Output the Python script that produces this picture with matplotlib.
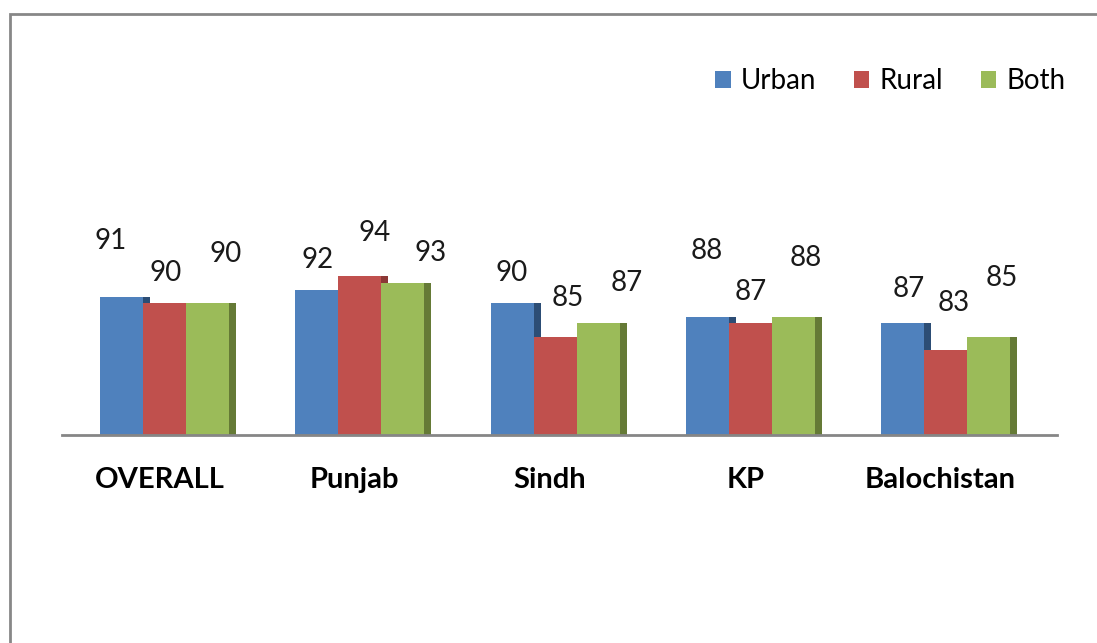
import matplotlib.pyplot as plt
from matplotlib.patches import Rectangle, Patch
import matplotlib.transforms as mtransforms
import numpy as np

plt.rcParams['font.family'] = ['Lato', 'DejaVu Sans']

regions = ['OVERALL', 'Punjab', 'Sindh', 'KP', 'Balochistan']
urban = [91, 92, 90, 88, 87]
rural = [90, 94, 85, 87, 83]
both = [90, 93, 87, 88, 85]
series_names = ['Urban', 'Rural', 'Both']

colors = ['#4F81BD', '#C0504D', '#9BBB59']
side_colors = ['#2C4D75', '#8C3836', '#657A36']

# Excel put the value labels unevenly, nudges in pixels (dx, dy above bar top)
label_nudge = [
    [(-11, 56), (1, 30), (18, 49)],
    [(1, 30), (15, 43), (28, 30)],
    [(0, 30), (13, 39), (29, 40)],
    [(-1, 66), (0, 31), (12, 59)],
    [(6, 34), (8, 47), (13, 59)],
]

W, H = 1097, 643
fig = plt.figure(figsize=(W / 100, H / 100), dpi=100)

# grey chart border, only left and top edges visible
fig.patches.append(Rectangle((10 / W, -0.1), 1.2, 1.1 - 14 / H, transform=fig.transFigure,
                             fill=False, edgecolor='#878787', linewidth=2))

ax = fig.add_axes([62 / W, 1 - 435 / H, 995 / W, 199 / H])
ax.set_xlim(-0.525, 4.571)
ax.set_ylim(70.4, 100)

x = np.arange(len(regions))
bw = 0.2202
side = 0.036
all_series = [urban, rural, both]

# dark side strips first, so the next bar hides them
for k, vals in enumerate(all_series):
    xs = x + (k - 1) * bw
    ax.bar(xs + bw / 2 + side / 2, np.array(vals) - 70.4, width=side, bottom=70.4,
           color=side_colors[k], linewidth=0)
for k, vals in enumerate(all_series):
    xs = x + (k - 1) * bw
    ax.bar(xs, np.array(vals) - 70.4, width=bw, bottom=70.4, color=colors[k],
           linewidth=0, label=series_names[k])
    for i, v in enumerate(vals):
        dx, dy = label_nudge[i][k]
        ax.annotate(str(v), (xs[i], v), xytext=(dx * 0.72, dy * 0.72),
                    textcoords='offset points', ha='center', va='center',
                    fontsize=20, color='#1a1a1a', annotation_clip=False)

for s in ['top', 'left', 'right']:
    ax.spines[s].set_visible(False)
ax.spines['bottom'].set_color('#868686')
ax.spines['bottom'].set_linewidth(2)
ax.set_yticks([])
ax.set_xticks([])

trans = mtransforms.blended_transform_factory(ax.transData, ax.transAxes)
off = mtransforms.ScaledTranslation(-5 / 100, -45 / 100, fig.dpi_scale_trans)
for i, name in enumerate(regions):
    ax.text(i, 0, name, transform=trans + off, ha='center', va='center',
            fontsize=21, fontweight='bold', color='black')

handles = [Patch(facecolor=c, edgecolor='none') for c in colors]
fig.legend(handles, series_names, loc='center right', bbox_to_anchor=(1066 / W, 1 - 81 / H),
           ncol=3, frameon=False, fontsize=20, handlelength=0.55, handleheight=0.55,
           handletextpad=0.38, columnspacing=1.35, borderpad=0, borderaxespad=0)

fig.savefig('out.png', dpi=100, facecolor='white')
